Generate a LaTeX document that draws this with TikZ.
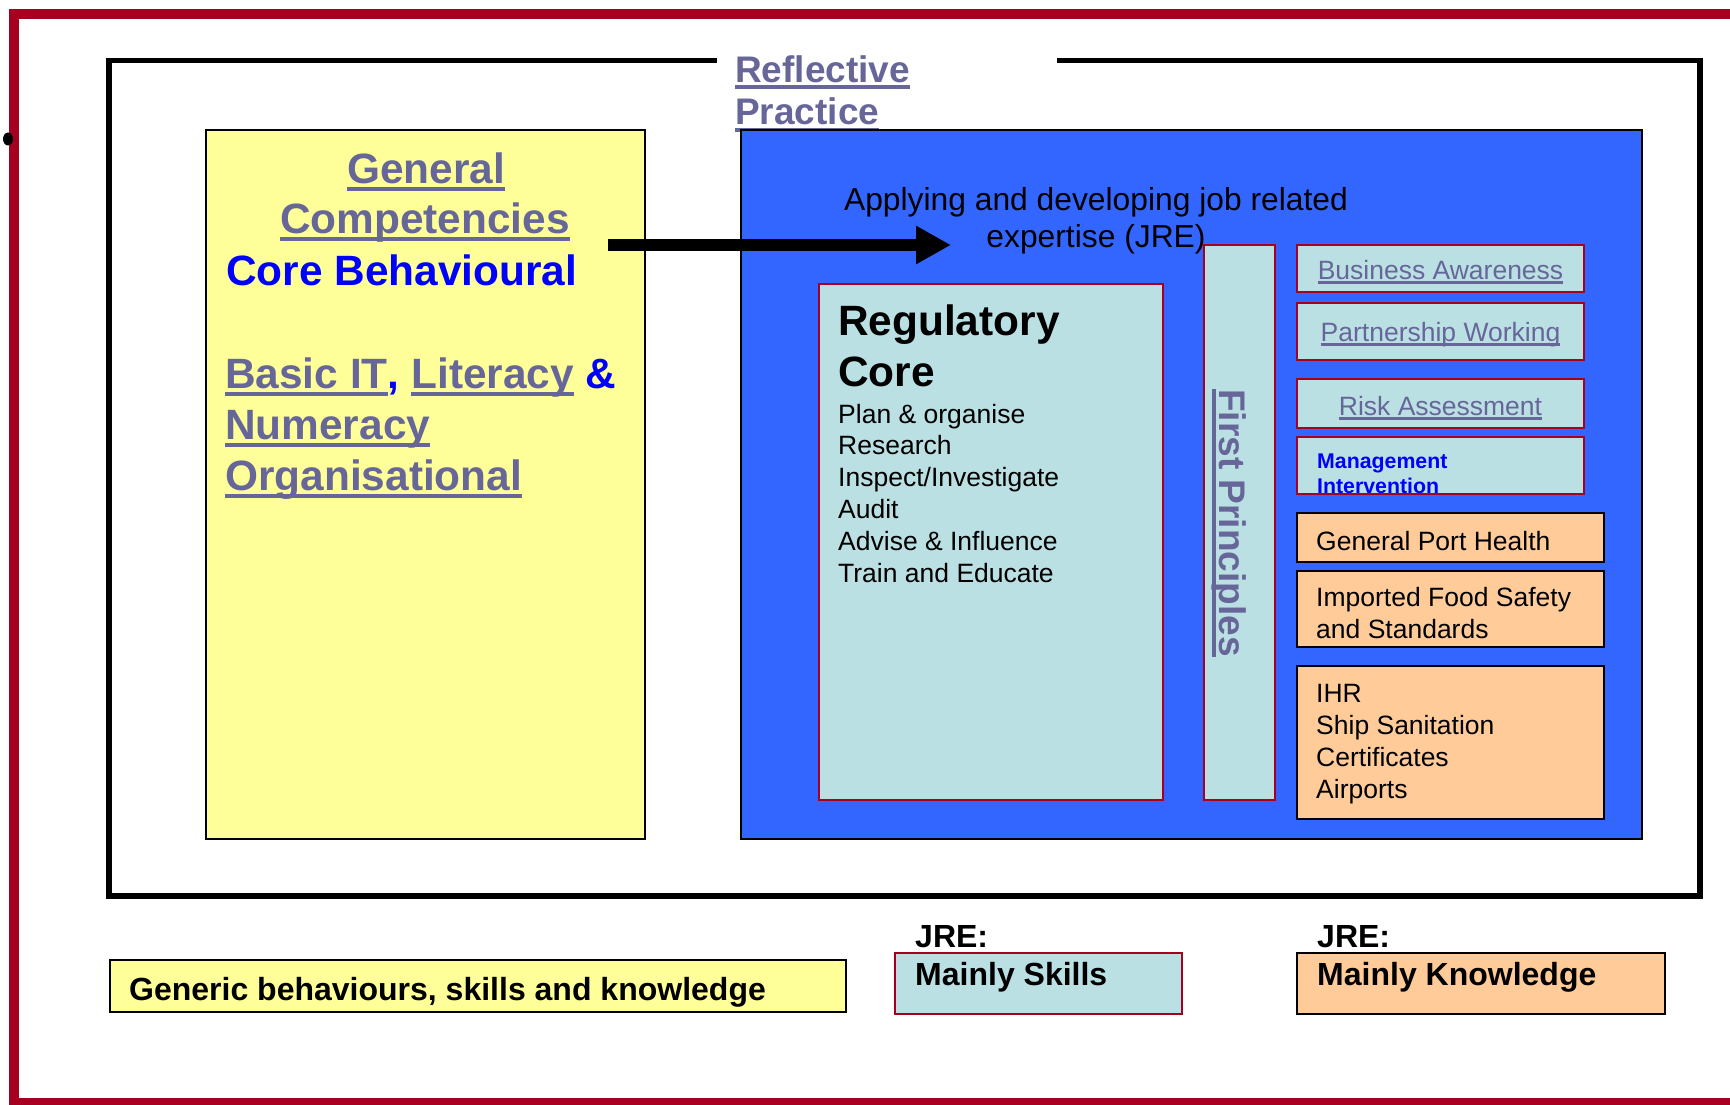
\documentclass[tikz,border=0pt]{standalone}
\usepackage{fontspec}
\setmainfont{Liberation Sans}
\usetikzlibrary{shapes.misc, positioning}
\usetikzlibrary{arrows, arrows.meta}
\definecolor{crimson}{HTML}{A50021}
\definecolor{canary}{HTML}{FFFF99}
\definecolor{royal}{HTML}{3366FF}
\definecolor{paleblue}{HTML}{BBE0E3}
\definecolor{peach}{HTML}{FFCC99}
\definecolor{slate}{HTML}{666699}
\def\yel{canary}
\def\pal{paleblue}
\def\pea{peach}
\newsavebox{\lnkbox}
\newcommand{\lnk}[1]{\sbox{\lnkbox}{#1}\rlap{\rule[-0.19em]{\wd\lnkbox}{0.1em}}\usebox{\lnkbox}}
\tikzstyle{outerframe} = [draw=crimson, line width=10pt]
\tikzstyle{panel} = [rectangle, draw=black, line width=1.5pt, inner sep=0pt]
\tikzstyle{skill} = [rectangle, draw=crimson, line width=2pt, fill=\pal, inner sep=0pt]
\tikzstyle{know} = [rectangle, draw=black, line width=2pt, fill=\pea, inner sep=0pt]
\tikzstyle{bigbold} = [inner sep=0pt, anchor=base west, align=left, font=\fontsize{42.4}{51}\selectfont\bfseries]
\tikzstyle{refl} = [inner sep=0pt, anchor=base west, align=left, text=slate, font=\fontsize{37}{43}\selectfont\bfseries]
\tikzstyle{bodytxt} = [inner sep=0pt, anchor=base west, align=left, font=\fontsize{26.5}{31.8}\selectfont]
\tikzstyle{applytxt} = [inner sep=0pt, anchor=base, align=center, font=\fontsize{31.8}{37}\selectfont]
\tikzstyle{legend} = [inner sep=0pt, anchor=base west, font=\fontsize{32}{38}\selectfont\bfseries]
\tikzstyle{mgmt} = [inner sep=0pt, anchor=base west, align=left, text=blue, font=\fontsize{21.3}{25}\selectfont\bfseries]

\begin{document}
\begin{tikzpicture}[x=1pt, y=1pt]
  \useasboundingbox (0,0) rectangle (1730,-1105);
  \clip (0,0) rectangle (1730,-1105);

  \draw[outerframe] (13.5,-14.5) rectangle (1745,-1103);
  \fill (8,-139) ellipse (5pt and 6.5pt);
  \draw[line width=5.5pt] (1057,-60.5) -- (1700,-60.5) -- (1700,-896) -- (109,-896) -- (109,-60.5) -- (717,-60.5);

  % multi-line nodes sit on the baseline of their last line
  \node (refl) [refl] at (735,-125) {\lnk{Reflective}\\\lnk{Practice}};

  % generic competencies
  \node (general) [panel, fill=\yel, minimum width=439pt, minimum height=709pt] at (425.5,-484.5) {};
  \node (gen1) [bigbold, anchor=base, text=slate] at (426,-183) {\lnk{General}};
  \node (gen2) [bigbold, anchor=base, text=slate] at (425,-233) {\lnk{Competencies}};
  \node (core) [bigbold, text=blue] at (226,-285) {Core Behavioural};
  \node (basic) [bigbold, text=slate] at (225,-490) {\lnk{Basic IT}\textcolor{blue}{,} \lnk{Literacy} \textcolor{blue}{\&}\\\lnk{Numeracy}\\\lnk{Organisational}};

  % job related expertise
  \node (jre) [panel, fill=royal, minimum width=901pt, minimum height=709pt] at (1191.5,-484.5) {};
  \node (apply) [applytxt] at (1096,-247) {Applying and developing job related\\expertise (JRE)};

  \coordinate (arrs) at (608,-245);
  \coordinate (arre) at (951,-245);
  \draw[line width=12pt, -{Triangle[length=35pt,width=36pt]}] (arrs) -- (arre);

  \node (reg) [skill, minimum width=344pt, minimum height=516pt] at (991,-542) {};
  \node (regtitle) [bigbold] at (838,-386) {Regulatory\\Core};
  \node (tasks) [bodytxt] at (838,-582) {Plan \& organise\\Research\\Inspect/Investigate\\Audit\\Advise \& Influence\\Train and Educate};

  \node (first) [skill, minimum width=71pt, minimum height=555pt] at (1239.5,-522.5) {};
  \node (firsttxt) [refl, rotate=-90, anchor=base] at (1219,-523) {\lnk{First Principles}};

  \node (bus) [skill, minimum width=287pt, minimum height=47pt] at (1440.5,-268.5) {};
  \node (bustxt) [bodytxt, anchor=base, text=slate] at (1440.5,-279) {\lnk{Business Awareness}};
  \node (part) [skill, minimum width=287pt, minimum height=57pt] at (1440.5,-331.5) {};
  \node (parttxt) [bodytxt, anchor=base, text=slate] at (1440.5,-341) {\lnk{Partnership Working}};
  \node (risk) [skill, minimum width=287pt, minimum height=49pt] at (1440.5,-403.5) {};
  \node (risktxt) [bodytxt, anchor=base, text=slate] at (1440.5,-415) {\lnk{Risk Assessment}};
  \node (mgmt) [skill, minimum width=287pt, minimum height=57pt] at (1440.5,-465.5) {};
  \node (mgmttxt) [mgmt] at (1317,-493) {Management\\Intervention};

  \node (port) [know, minimum width=307pt, minimum height=49pt] at (1450.5,-537.5) {};
  \node (porttxt) [bodytxt] at (1316,-550) {General Port Health};
  \node (food) [know, minimum width=307pt, minimum height=76pt] at (1450.5,-609) {};
  \node (foodtxt) [bodytxt] at (1316,-638) {Imported Food Safety\\and Standards};
  \node (ihr) [know, minimum width=307pt, minimum height=153pt] at (1450.5,-742.5) {};
  \node (ihrtxt) [bodytxt] at (1316,-798) {IHR\\Ship Sanitation\\Certificates\\Airports};

  % legend
  \node (generic) [panel, fill=\yel, line width=2pt, minimum width=736pt, minimum height=52pt] at (478,-986) {};
  \node (generictxt) [legend] at (129,-1000) {Generic behaviours, skills and knowledge};
  \node (skills) [skill, minimum width=287pt, minimum height=61pt] at (1038.5,-983.5) {};
  \node (skillstxt) [legend] at (915,-985) {Mainly Skills};
  \node (jre1) [legend] at (915,-947) {JRE:};
  \node (knowl) [know, minimum width=368pt, minimum height=61pt] at (1481,-983.5) {};
  \node (knowltxt) [legend] at (1317,-985) {Mainly Knowledge};
  \node (jre2) [legend] at (1317,-947) {JRE:};
\end{tikzpicture}
\end{document}
